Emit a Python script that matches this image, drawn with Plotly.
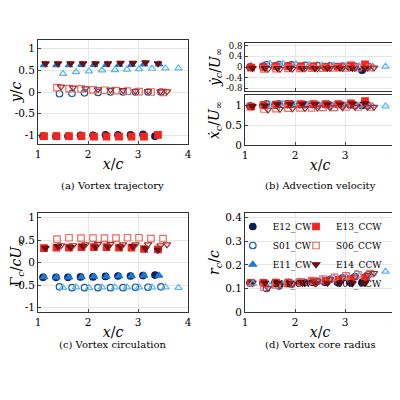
import plotly.graph_objects as go

# x/c positions
x_E12 = [1.10, 1.36, 1.60, 1.85, 2.10, 2.35, 2.60, 2.85, 3.10, 3.34]
x_E13 = [1.12, 1.37, 1.62, 1.87, 2.12, 2.37, 2.62, 2.87, 3.12, 3.40]
x_E11 = [1.12, 1.37, 1.62, 1.87, 2.12, 2.37, 2.62, 2.87, 3.12, 3.42]
x_E14 = [1.15, 1.40, 1.65, 1.90, 2.15, 2.40, 2.65, 2.90, 3.15, 3.40]
x_S01 = [1.43, 1.68, 1.93, 2.20, 2.45, 2.70, 2.95, 3.20, 3.46]
x_S06 = [1.38, 1.62, 1.86, 2.10, 2.33, 2.56, 2.79, 3.02, 3.26, 3.50]
x_S11 = [1.50, 1.76, 2.02, 2.28, 2.54, 2.78, 3.02, 3.28, 3.55, 3.81]
x_S05 = [1.46, 1.70, 1.95, 2.20, 2.45, 2.70, 2.95, 3.20, 3.45, 3.58]

# (a) y/c
y_E12 = [-1.02, -1.02, -1.02, -1.00, -1.00, -0.99, -0.99, -0.99, -0.98, -1.02]
y_E13 = [-1.02, -1.02, -1.02, -1.02, -1.03, -1.03, -1.03, -1.03, -1.03, -0.99]
y_E11 = [0.62, 0.62, 0.62, 0.63, 0.63, 0.63, 0.63, 0.63, 0.64, 0.64]
y_E14 = [0.66, 0.66, 0.66, 0.66, 0.66, 0.66, 0.67, 0.67, 0.68, 0.66]
y_S01 = [-0.04, -0.03, -0.02, -0.01, 0.00, 0.00, 0.00, 0.00, 0.00]
y_S06 = [0.10, 0.08, 0.07, 0.05, 0.04, 0.03, 0.02, 0.01, 0.00, -0.01]
y_S11 = [0.42, 0.46, 0.48, 0.50, 0.51, 0.52, 0.53, 0.54, 0.55, 0.55]
y_S05 = [0.12, 0.10, 0.08, 0.06, 0.05, 0.04, 0.02, 0.02, 0.01, 0.01]

# (b) ydot/U
vy_E12 = [0.00, 0.02, 0.03, 0.02, 0.01, 0.01, 0.00, 0.00, -0.02, -0.12]
vy_E13 = [-0.02, 0.00, 0.02, 0.03, 0.02, 0.02, 0.01, 0.01, 0.06, 0.10]
vy_E11 = [0.04, 0.05, 0.04, 0.03, 0.03, 0.02, 0.02, 0.01, 0.00, -0.03]
vy_E14 = [-0.04, -0.04, -0.05, -0.04, -0.05, -0.05, -0.04, -0.04, -0.04, -0.05]
vy_S01 = [0.08, 0.09, 0.08, 0.06, 0.05, 0.04, 0.03, 0.02, 0.02]
vy_S06 = [-0.07, -0.06, -0.05, -0.05, -0.04, -0.04, -0.03, -0.03, -0.02, -0.02]
vy_S11 = [0.12, 0.12, 0.10, 0.08, 0.07, 0.06, 0.05, 0.04, 0.03, 0.02]
vy_S05 = [-0.08, -0.08, -0.07, -0.06, -0.06, -0.05, -0.05, -0.04, -0.03, -0.03]

# (b) xdot/U
vx_E12 = [0.97, 0.99, 1.00, 1.01, 1.01, 1.01, 1.01, 1.01, 1.00, 0.99]
vx_E13 = [0.96, 1.00, 1.01, 1.03, 1.02, 1.02, 1.02, 1.02, 1.04, 1.10]
vx_E11 = [0.98, 1.00, 1.01, 1.02, 1.02, 1.02, 1.01, 1.01, 1.03, 1.00]
vx_E14 = [0.97, 0.98, 1.01, 1.02, 1.02, 1.01, 1.01, 1.01, 1.03, 1.04]
vx_S01 = [1.03, 1.03, 1.02, 1.01, 1.00, 1.00, 1.00, 0.99, 0.99]
vx_S06 = [0.90, 0.91, 0.92, 0.93, 0.93, 0.94, 0.94, 0.95, 0.95, 0.95]
vx_S11 = [1.02, 1.03, 1.02, 1.01, 1.01, 1.00, 1.00, 0.99, 0.98, 0.97]
vx_S05 = [0.88, 0.90, 0.91, 0.92, 0.93, 0.94, 0.94, 0.95, 0.95, 0.95]

# (c) circulation
g_E12 = [-0.33, -0.33, -0.33, -0.32, -0.32, -0.31, -0.30, -0.30, -0.29, -0.28]
g_E13 = [0.32, 0.33, 0.33, 0.34, 0.34, 0.34, 0.33, 0.33, 0.30, 0.29]
g_E11 = [-0.32, -0.33, -0.33, -0.32, -0.31, -0.31, -0.30, -0.30, -0.29, -0.29]
g_E14 = [0.32, 0.36, 0.34, 0.36, 0.35, 0.35, 0.35, 0.36, 0.31, 0.28]
g_S01 = [-0.54, -0.56, -0.56, -0.56, -0.56, -0.56, -0.55, -0.55, -0.54]
g_S06 = [0.52, 0.55, 0.54, 0.54, 0.54, 0.54, 0.55, 0.55, 0.53, 0.53]
g_S11 = [-0.56, -0.55, -0.56, -0.55, -0.55, -0.55, -0.55, -0.55, -0.55, -0.56]
g_S05 = [0.38, 0.38, 0.40, 0.41, 0.41, 0.40, 0.40, 0.40, 0.38, 0.40]

# (d) core radius
r_E12 = [0.124, 0.124, 0.125, 0.125, 0.125, 0.126, 0.126, 0.126, 0.126, 0.126]
r_E13 = [0.124, 0.124, 0.125, 0.125, 0.127, 0.130, 0.133, 0.136, 0.140, 0.145]
r_E11 = [0.124, 0.124, 0.125, 0.126, 0.128, 0.130, 0.132, 0.135, 0.140, 0.145]
r_E14 = [0.124, 0.124, 0.123, 0.123, 0.123, 0.123, 0.123, 0.123, 0.122, 0.122]
r_S01 = [0.100, 0.110, 0.118, 0.125, 0.130, 0.138, 0.145, 0.150, 0.158]
r_S06 = [0.105, 0.115, 0.120, 0.127, 0.133, 0.140, 0.147, 0.153, 0.158, 0.163]
r_S11 = [0.110, 0.118, 0.125, 0.130, 0.137, 0.145, 0.150, 0.155, 0.163, 0.172]
r_S05 = [0.102, 0.112, 0.120, 0.125, 0.132, 0.138, 0.145, 0.150, 0.157, 0.165]

series = [
    ("E12_CW", x_E12, y_E12, vy_E12, vx_E12, g_E12, r_E12, "circle", "#0b1f5e", "legend"),
    ("S01_CW", x_S01, y_S01, vy_S01, vx_S01, g_S01, r_S01, "circle-open", "#1f5aa6", "legend"),
    ("E11_CW", x_E11, y_E11, vy_E11, vx_E11, g_E11, r_E11, "triangle-up", "#1e78d8", "legend"),
    ("S11_CW", x_S11, y_S11, vy_S11, vx_S11, g_S11, r_S11, "triangle-up-open", "#5bb5f5", "legend"),
    ("E13_CCW", x_E13, y_E13, vy_E13, vx_E13, g_E13, r_E13, "square", "#f5241c", "legend2"),
    ("S06_CCW", x_S06, y_S06, vy_S06, vx_S06, g_S06, r_S06, "square-open", "#f06a5e", "legend2"),
    ("E14_CCW", x_E14, y_E14, vy_E14, vx_E14, g_E14, r_E14, "triangle-down", "#6e0e0e", "legend2"),
    ("S05_CCW", x_S05, y_S05, vy_S05, vx_S05, g_S05, r_S05, "triangle-down-open", "#a82a2a", "legend2"),
]

fig = go.Figure()
axes = [("x", "y"), ("x2", "y2"), ("x3", "y3"), ("x4", "y4"), ("x5", "y5")]
for name, xs, ya, vy, vx, g, r, sym, col, leg in series:
    mk = dict(symbol=sym, size=6.5, color=col, line=dict(width=1.2, color=col))
    for (xa, yaa), vals in zip(axes, [ya, vy, vx, g, r]):
        fig.add_trace(go.Scatter(x=xs, y=vals, mode="markers", marker=mk, name=name,
                                 xaxis=xa, yaxis=yaa, showlegend=(xa == "x5"), legend=leg))

font = dict(family="DejaVu Serif", size=12, color="black")
ax = dict(showline=True, linecolor="#333", linewidth=1, mirror=True, ticks="inside", ticklen=3,
          gridcolor="#e6e6e6", zeroline=False, tickfont=dict(size=10.5))
xcfg = dict(ax, range=[1, 4], tickvals=[1, 2, 3, 4])
xt = "<i>x</i>/<i>c</i>"
dl = [0.075, 0.45]
dr = [0.5925, 0.9675]
fig.update_layout(
    width=400, height=400, margin=dict(l=0, r=0, t=0, b=0, autoexpand=False),
    paper_bgcolor="white", plot_bgcolor="white", font=font,
    xaxis=dict(xcfg, domain=dl, anchor="y", title=dict(text=xt, standoff=0)),
    yaxis=dict(ax, domain=[0.66, 0.92], range=[-1.2, 1.2], tickvals=[-1, -0.5, 0, 0.5, 1],
               ticktext=["-1", "-0.5", "0", "0.5", "1"], anchor="x", title=dict(text="<i>y</i>/<i>c</i>", standoff=2)),
    xaxis2=dict(xcfg, domain=dr, anchor="y2", showticklabels=False),
    yaxis2=dict(ax, domain=[0.7925, 0.9125], range=[-0.9, 0.9], tickvals=[-0.8, -0.4, 0, 0.4, 0.8],
                ticktext=["-0.8", "-0.4", "0", "0.4", "0.8"], anchor="x2", tickfont=dict(size=8.5),
                title=dict(text="<i>ẏ<sub>c</sub></i>/<i>U</i><sub>∞</sub>", standoff=2)),
    xaxis3=dict(xcfg, domain=dr, anchor="y3", title=dict(text=xt, standoff=0)),
    yaxis3=dict(ax, domain=[0.6575, 0.7825], range=[0, 1.25], tickvals=[0, 0.5, 1], anchor="x3",
                title=dict(text="<i>ẋ<sub>c</sub></i>/<i>U</i><sub>∞</sub>", standoff=2)),
    xaxis4=dict(xcfg, domain=dl, anchor="y4", title=dict(text=xt, standoff=0)),
    yaxis4=dict(ax, domain=[0.24, 0.4875], range=[-1.1, 1.1], tickvals=[-1, -0.5, 0, 0.5, 1],
                ticktext=["-1", "-0.5", "0", "0.5", "1"], anchor="x4",
                title=dict(text="Γ<sub><i>c</i></sub>/<i>cU</i><sub>∞</sub>", standoff=2)),
    xaxis5=dict(xcfg, domain=dr, anchor="y5", title=dict(text=xt, standoff=0)),
    yaxis5=dict(ax, domain=[0.24, 0.4875], range=[0, 0.42], tickvals=[0, 0.1, 0.2, 0.3, 0.4],
                ticktext=["0", "0.1", "0.2", "0.3", "0.4"], anchor="x5",
                title=dict(text="<i>r<sub>c</sub></i>/<i>c</i>", standoff=2)),
    legend=dict(x=0.562, y=0.49, xanchor="left", yanchor="top", bgcolor="rgba(0,0,0,0)",
                font=dict(size=9), tracegroupgap=0, itemwidth=30),
    legend2=dict(x=0.72, y=0.49, xanchor="left", yanchor="top", bgcolor="rgba(0,0,0,0)",
                 font=dict(size=9), tracegroupgap=0, itemwidth=30),
)
caps = [(0.26, 0.555, "(a) Vortex trajectory"), (0.78, 0.555, "(b) Advection velocity"),
        (0.26, 0.14, "(c) Vortex circulation"), (0.78, 0.14, "(d) Vortex core radius")]
for x, y, t in caps:
    fig.add_annotation(x=x, y=y, xref="paper", yref="paper", xanchor="center", text=t,
                       showarrow=False, font=dict(size=10))
fig.write_html("out.html")
